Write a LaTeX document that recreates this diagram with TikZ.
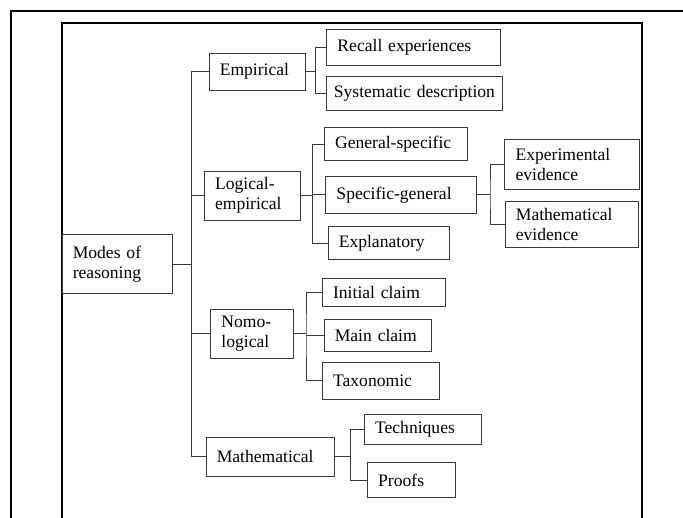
\documentclass[tikz,border=0pt]{standalone}
\usepackage{fontspec}
\setmainfont{Liberation Serif}
\usepackage{tikz}
\usetikzlibrary{positioning,calc}
\definecolor{boxline}{HTML}{3A3A3A}
\tikzset{
  box/.style={draw=boxline, line width=0.6pt, align=left, inner xsep=0.27cm, inner ysep=0.08cm, text width=#1},
  frame/.style={draw=black, line width=1.1pt},
  link/.style={draw=boxline, line width=0.6pt}
}

\begin{document}
\begin{tikzpicture}[x=0.025cm, y=-0.025cm, font=\fontsize{12.5}{14}\selectfont]
  \useasboundingbox (0,0) rectangle (683,518);
  \draw[frame] (683,11) -- (11,11) -- (11,518);
  \draw[frame] (62,518) -- (62,23) -- (642,23) -- (642,518);

  \node[box=2.21cm, minimum height=1.46cm] (modes) at (117,264) {Modes of\\reasoning};

  \node[box=1.86cm, minimum height=0.925cm] (emp) at (257,71.5) {Empirical};
  \node[box=1.87cm, minimum height=1.225cm] (logemp) at (252.5,195.5) {Logical-\\empirical};
  \node[box=1.525cm, minimum height=1.23cm] (nomo) at (252,333.7) {Nomo-\\logical};
  \node[box=2.66cm, minimum height=0.97cm] (math) at (270,456.7) {Mathematical};

  \node[box=3.79cm, minimum height=0.91cm] (recall) at (413.3,47.5) {Recall experiences};
  \node[box=4.04cm, inner xsep=0.18cm, minimum height=0.85cm] (syst) at (414.7,93) {Systematic description};

  \node[box=3.03cm, minimum height=0.83cm] (gensp) at (395.7,144.3) {General-specific};
  \node[box=3.235cm, minimum height=0.91cm] (specgen) at (401.2,194.8) {Specific-general};
  \node[box=2.485cm, minimum height=0.825cm] (expl) at (388.5,243) {Explanatory};

  \node[box=2.82cm, minimum height=1.25cm] (experim) at (572,164.3) {Experimental\\evidence};
  \node[box=2.79cm, minimum height=1.14cm] (matev) at (571.7,224.5) {Mathematical\\evidence};

  \node[box=2.545cm, minimum height=0.71cm] (initial) at (384,292.5) {Initial claim};
  \node[box=2.15cm, minimum height=0.81cm] (mainclaim) at (377.8,335.5) {Main claim};
  \node[box=2.38cm, minimum height=0.91cm] (taxo) at (380.7,380.8) {Taxonomic};

  \node[box=2.38cm, minimum height=0.74cm] (tech) at (422.7,429.2) {Techniques};
  \node[box=1.65cm, minimum height=0.875cm] (proofs) at (411.2,480.2) {Proofs};

  \coordinate (modes-fork) at (191.7,264);
  \coordinate (emp-fork) at (315.7,71.5);
  \coordinate (logemp-fork) at (312.7,195.5);
  \coordinate (specgen-fork) at (490,194.8);
  \coordinate (nomo-fork) at (306,333.7);
  \coordinate (math-fork) at (350.7,456.7);

  \foreach \p/\a/\b in {modes/emp/math, emp/recall/syst, logemp/gensp/expl, specgen/experim/matev, nomo/initial/taxo, math/tech/proofs} {
    \draw[link] (\p.east) -- (\p-fork);
    \draw[link] (\a.west) -| (\p-fork) |- (\b.west);
  }
  \foreach \p/\c in {modes/logemp, modes/nomo, logemp/specgen, nomo/mainclaim} {
    \draw[link] (\p-fork |- \c.west) -- (\c.west);
  }
\end{tikzpicture}
\end{document}
